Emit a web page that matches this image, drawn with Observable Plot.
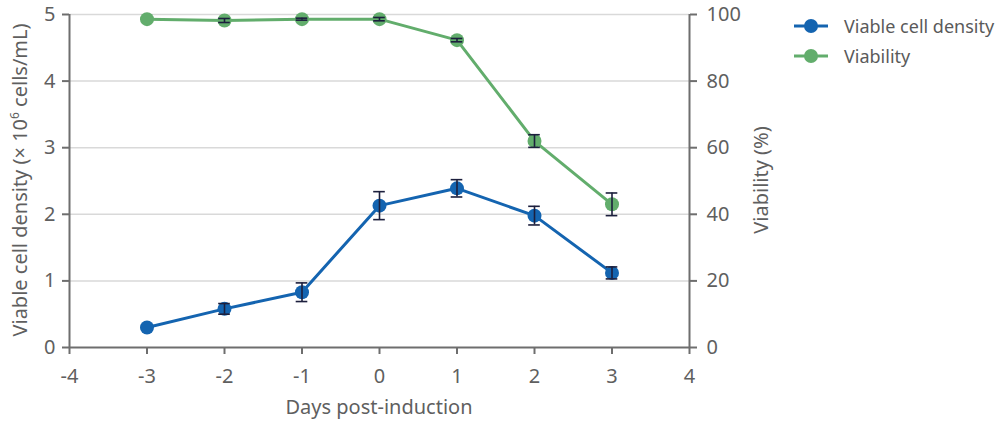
<!DOCTYPE html>
<html><head><meta charset="utf-8">
<script src="https://cdn.jsdelivr.net/npm/d3@7"></script>
<script src="https://cdn.jsdelivr.net/npm/@observablehq/plot@0.6"></script>
<style>
body{margin:0;background:#fff;font-family:"Noto Sans",sans-serif;}
#wrap{position:relative;width:1000px;height:422px;}
#legend{position:absolute;left:792px;top:11px;font-size:18px;color:#5a5a5a;}
#legend div{display:flex;align-items:center;height:30px;}
#legend span{margin-left:14px;}
#chart g[aria-label$="tick label"]{font-size:20px;}
</style></head>
<body><div id="wrap"><div id="chart"></div>
<div id="legend"></div></div>
<script>
const days = [-3, -2, -1, 0, 1, 2, 3];
const vcd = [0.30, 0.58, 0.83, 2.13, 2.39, 1.98, 1.12];
const vcdErr = [0, 0.08, 0.14, 0.21, 0.13, 0.14, 0.09];
const viability = [98.6, 98.2, 98.6, 98.6, 92.3, 62.0, 43.0];
const viabilityErr = [0, 0.6, 0.3, 0.5, 0.5, 1.9, 3.4];
const seriesNames = ["Viable cell density", "Viability"];
const colors = ["#1464b0", "#62ad6c"];
const xTicks = [-4, -3, -2, -1, 0, 1, 2, 3, 4];
const leftTicks = [0, 1, 2, 3, 4, 5];
const rightTicks = [0, 20, 40, 60, 80, 100];

const ratio = 20; // right axis units per left axis unit
const data = [];
days.forEach((d, i) => {
  data.push({series: seriesNames[0], day: d, y: vcd[i], e: vcdErr[i]});
  data.push({series: seriesNames[1], day: d, y: viability[i] / ratio, e: viabilityErr[i] / ratio});
});
const errs = data.filter(d => d.e > 0);
const cap = 0.075;
const axisColor = "#6e6e6e";
const textColor = "#5f5f5f";

const plot = Plot.plot({
  width: 1000, height: 422,
  marginLeft: 69, marginRight: 311, marginTop: 14, marginBottom: 75,
  style: {fontFamily: "Noto Sans", color: textColor, background: "#fff"},
  x: {domain: [-4, 4]},
  y: {domain: [0, 5]},
  color: {domain: seriesNames, range: colors},
  marks: [
    Plot.gridY(leftTicks.slice(1), {stroke: "#d9d9d9", strokeOpacity: 1, strokeWidth: 1.5}),
    Plot.axisX({ticks: xTicks, tickFormat: d => String(d), tickSize: 7, tickPadding: 14, stroke: axisColor, strokeWidth: 2, fill: textColor, label: null}),
    Plot.axisY({ticks: leftTicks, tickFormat: d => String(d), tickSize: 7, tickPadding: 7, stroke: axisColor, strokeWidth: 2, fill: textColor, label: null}),
    Plot.axisY({anchor: "right", ticks: rightTicks.map(v => v / ratio), tickFormat: d => String(Math.round(d * ratio)), tickSize: 7, tickPadding: 10, stroke: axisColor, strokeWidth: 2, fill: textColor, label: null}),
    Plot.ruleX([-4], {stroke: axisColor, strokeWidth: 2}),
    Plot.ruleX([4], {stroke: axisColor, strokeWidth: 2}),
    Plot.ruleY([0], {stroke: axisColor, strokeWidth: 2}),
    Plot.line(data, {x: "day", y: "y", z: "series", stroke: "series", strokeWidth: 3}),
    Plot.dot(data, {x: "day", y: "y", fill: "series", r: 7}),
    Plot.ruleX(errs, {x: "day", y1: d => d.y - d.e, y2: d => d.y + d.e, stroke: "#1c1f3d", strokeWidth: 1.6}),
    Plot.ruleY(errs, {y: d => d.y + d.e, x1: d => d.day - cap, x2: d => d.day + cap, stroke: "#1c1f3d", strokeWidth: 1.6}),
    Plot.ruleY(errs, {y: d => d.y - d.e, x1: d => d.day - cap, x2: d => d.day + cap, stroke: "#1c1f3d", strokeWidth: 1.6})
  ]
});

// axis titles
const svg = d3.select(plot);
svg.append("text").attr("x", 379).attr("y", 414).attr("text-anchor", "middle")
  .attr("fill", textColor).style("font-size", "20px").text("Days post-induction");
const lt = svg.append("text").attr("transform", "translate(27,180) rotate(-90)").attr("text-anchor", "middle")
  .attr("fill", textColor).style("font-size", "20px");
lt.append("tspan").text("Viable cell density (× 10");
lt.append("tspan").attr("dy", -8).style("font-size", "12px").text("6");
lt.append("tspan").attr("dy", 8).text(" cells/mL)");
svg.append("text").attr("transform", "translate(768,180) rotate(-90)").attr("text-anchor", "middle")
  .attr("fill", textColor).style("font-size", "20px").text("Viability (%)");

document.getElementById("chart").appendChild(plot);

const leg = document.getElementById("legend");
seriesNames.forEach((n, i) => {
  const row = document.createElement("div");
  row.innerHTML = `<svg width="38" height="16"><line x1="2" x2="36" y1="8" y2="8" stroke="${colors[i]}" stroke-width="3"/><circle cx="19" cy="8" r="7" fill="${colors[i]}"/></svg><span>${n}</span>`;
  leg.appendChild(row);
});
</script></body></html>
